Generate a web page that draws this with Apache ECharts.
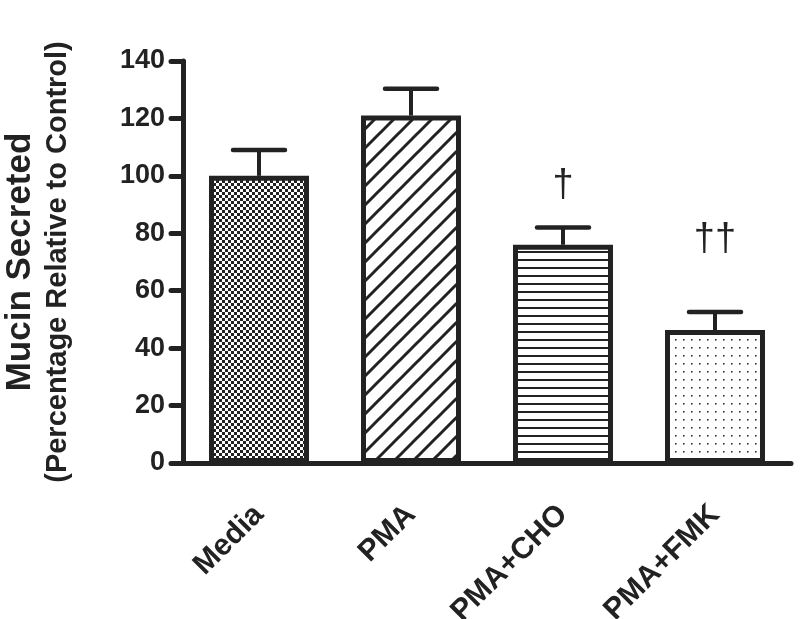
<!DOCTYPE html>
<html>
<head>
<meta charset="utf-8">
<script src="https://cdn.jsdelivr.net/npm/echarts@6/dist/echarts.min.js"></script>
<style>html,body{margin:0;padding:0;background:#fff}#c{width:800px;height:619px}</style>
</head>
<body>
<div id="c"></div>
<script>
var categories = ['Media', 'PMA', 'PMA+CHO', 'PMA+FMK'];
var meanValues = [100, 121, 76, 46.3];
var errorTops = [109, 130.3, 82, 52.6];
var yTicks = [0, 20, 40, 60, 80, 100, 120, 140];
var marks = [['PMA+CHO', 96.5, '\u2020'], ['PMA+FMK', 78, '\u2020\u2020']];

var INK = '#222';
function mk(w, h, draw) {
  var c = document.createElement('canvas');
  c.width = w; c.height = h;
  var g = c.getContext('2d');
  g.fillStyle = '#fff'; g.fillRect(0, 0, w, h);
  draw(g, w, h);
  return c;
}
var patChecker = mk(6, 6, function (g) {
  g.fillStyle = INK; g.fillRect(0, 0, 3, 3); g.fillRect(3, 3, 3, 3);
});
var patDiag = mk(19, 19, function (g, w) {
  g.strokeStyle = INK; g.lineWidth = 3;
  [0, w, 2 * w].forEach(function (s) {
    g.beginPath(); g.moveTo(s + 2, -2); g.lineTo(s - w - 2, w + 2); g.stroke();
  });
});
var patHoriz = mk(4, 8, function (g) {
  g.fillStyle = INK; g.fillRect(0, 3, 4, 2);
});
var patDots = mk(8, 8, function (g) {
  g.fillStyle = '#333'; g.fillRect(3, 3, 1.6, 1.6);
});
var patterns = [patChecker, patDiag, patHoriz, patDots];

var chart = echarts.init(document.getElementById('c'));
var fontFam = '"Liberation Sans", Arial, sans-serif';
chart.setOption({
  animation: false,
  backgroundColor: '#fff',
  grid: { left: 183, right: 9, top: 61, bottom: 156, containLabel: false, outerBoundsMode: 'none' },
  xAxis: {
    type: 'category',
    data: categories,
    boundaryGap: true,
    axisLine: { lineStyle: { color: INK, width: 5, cap: 'round' } },
    axisTick: { alignWithLabel: true, length: 14, lineStyle: { color: INK, width: 5, cap: 'round' } },
    axisLabel: { rotate: 45, margin: 47, color: INK, fontSize: 30, fontWeight: 'bold', fontFamily: fontFam, interval: 0 },
    splitLine: { show: false }
  },
  yAxis: {
    type: 'value',
    min: yTicks[0], max: yTicks[yTicks.length - 1], interval: yTicks[1] - yTicks[0],
    name: '{a|Mucin Secreted}\n{b|(Percentage Relative to Control)}',
    nameLocation: 'middle',
    nameGap: 107,
    nameTextStyle: {
      color: INK, fontFamily: fontFam, fontWeight: 'bold', align: 'center',
      rich: {
        a: { fontSize: 35, lineHeight: 40, fontWeight: 'bold', fontFamily: fontFam, color: INK, align: 'center' },
        b: { fontSize: 29, lineHeight: 36, fontWeight: 'bold', fontFamily: fontFam, color: INK, align: 'center' }
      }
    },
    axisLine: { show: true, lineStyle: { color: INK, width: 5, cap: 'round' } },
    axisTick: { show: true, length: 12, lineStyle: { color: INK, width: 5, cap: 'round' } },
    axisLabel: { margin: 18, color: INK, fontSize: 27, fontWeight: 'bold', fontFamily: fontFam },
    splitLine: { show: false }
  },
  series: [
    {
      type: 'bar',
      barWidth: 100,
      z: 2,
      data: meanValues.map(function (v, i) {
        return {
          value: v,
          itemStyle: {
            color: { image: patterns[i], repeat: 'repeat' },
            borderColor: INK, borderWidth: 5
          }
        };
      })
    },
    {
      type: 'custom',
      z: 1,
      data: errorTops.map(function (e, i) { return [i, meanValues[i], e]; }),
      renderItem: function (params, api) {
        var x = api.value(0);
        var p0 = api.coord([x, api.value(1)]);
        var p1 = api.coord([x, api.value(2)]);
        var hw = 26;
        return {
          type: 'group',
          children: [
            { type: 'line', shape: { x1: p0[0], y1: p0[1], x2: p1[0], y2: p1[1] }, style: { stroke: INK, lineWidth: 4 } },
            { type: 'line', shape: { x1: p1[0] - hw, y1: p1[1], x2: p1[0] + hw, y2: p1[1] }, style: { stroke: INK, lineWidth: 4.5, lineCap: 'round' } }
          ]
        };
      }
    },
    {
      type: 'custom',
      z: 3,
      data: marks,
      renderItem: function (params, api) {
        var p = api.coord([api.value(0), api.value(1)]);
        return {
          type: 'text',
          x: p[0], y: p[1],
          style: {
            text: marks[params.dataIndex][2],
            fill: INK, fontSize: 38, fontFamily: fontFam,
            align: 'center', verticalAlign: 'middle'
          }
        };
      }
    }
  ]
});
</script>
</body>
</html>
